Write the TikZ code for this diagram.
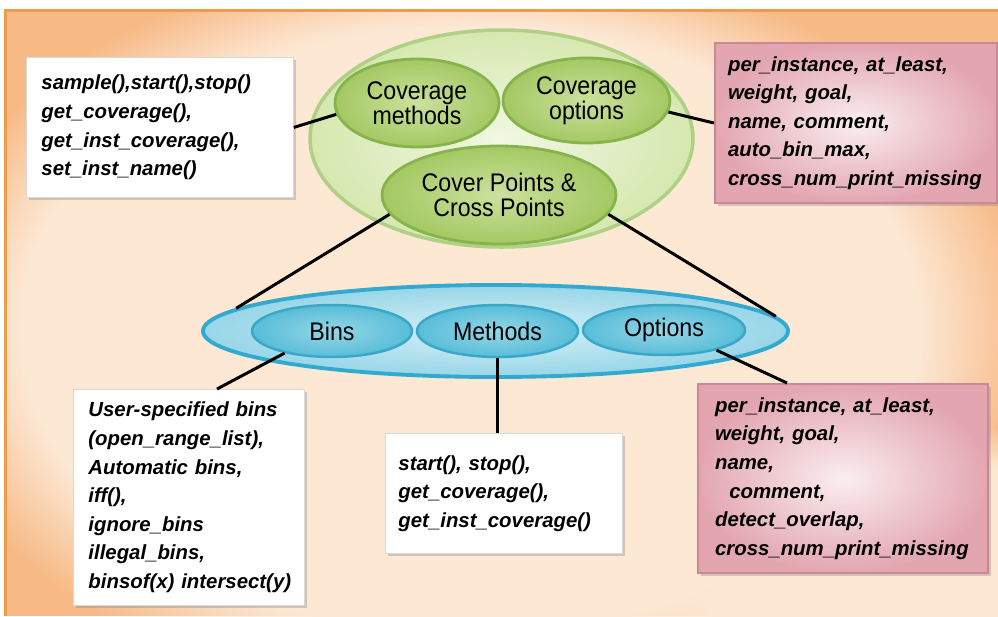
\documentclass[tikz,border=0pt]{standalone}
\usepackage{fontspec}
\setmainfont{Liberation Sans}
\usetikzlibrary{shapes.geometric,calc,fadings,shadows}

\definecolor{panelOrange}{HTML}{F7B985}
\definecolor{panelLight}{HTML}{FDE8D4}
\definecolor{frameOrange}{HTML}{F19A48}
\definecolor{greenOuterFill}{HTML}{D6E8B0}
\definecolor{greenOuterInner}{HTML}{F1F7E2}
\definecolor{greenOuterLine}{HTML}{B0D185}
\definecolor{greenIn}{HTML}{CBE19D}
\definecolor{greenOut}{HTML}{A4C863}
\definecolor{greenLine}{HTML}{86B34C}
\definecolor{blueOuterFill}{HTML}{98D6E8}
\definecolor{blueOuterInner}{HTML}{D6F0F7}
\definecolor{blueOuterLine}{HTML}{32AACF}
\definecolor{blueIn}{HTML}{95D6E7}
\definecolor{blueOut}{HTML}{58BDD8}
\definecolor{blueLine}{HTML}{3AA6C8}
\definecolor{pinkEdge}{HTML}{E3A6B1}
\definecolor{pinkCentre}{HTML}{FAEEF0}
\definecolor{pinkLine}{HTML}{C98893}

\newcommand{\sq}[1]{\scalebox{0.91}[1]{#1}}

\begin{document}
\begin{tikzpicture}[x=0.02cm,y=-0.02cm,
  ell/.style={ellipse, inner sep=0pt, align=center,
    font=\fontsize{14.5}{12.5}\selectfont},
  greenbig/.style={ell, draw=greenOuterLine, line width=2pt,
    inner color=greenOuterInner, outer color=greenOuterFill},
  greenell/.style={ell, draw=greenLine, line width=1.6pt,
    inner color=greenIn, outer color=greenOut},
  bluebig/.style={ell, draw=blueOuterLine, line width=2.2pt,
    inner color=blueOuterInner, outer color=blueOuterFill},
  blueell/.style={ell, draw=blueLine, line width=1.4pt,
    inner color=blueIn, outer color=blueOut},
  txtbox/.style={anchor=north west, align=left, inner ysep=0pt,
    inner xsep=0.06cm,
    font=\bfseries\itshape\fontsize{11.6}{16.3}\selectfont,
    drop shadow={shadow xshift=1.5pt, shadow yshift=-1.5pt, opacity=0.35}},
  whitebox/.style={txtbox, fill=white, draw=black!15, line width=0.5pt},
  pinkbox/.style={txtbox, draw=pinkLine, line width=1.2pt,
    inner color=pinkCentre, outer color=pinkEdge},
  link/.style={draw=black, line width=1.7pt}
]
\useasboundingbox (0,0) rectangle (998,616);
\fill[white] (0,0) rectangle (998,616);

% panel background
\begin{scope}
  \clip (5,10) rectangle (998,616);
  \fill[panelOrange] (5,10) rectangle (998,616);
  \fill[panelLight, path fading=circle with fuzzy edge 20 percent]
    (470,330) ellipse [x radius=560, y radius=380];
  \fill[panelLight, path fading=circle with fuzzy edge 20 percent]
    (920,610) ellipse [x radius=260, y radius=190];
\end{scope}
\draw[frameOrange, line width=2pt] (998,10.5) -- (5.5,10.5) -- (5.5,616);

% upper group: coverage group
\node[greenbig, minimum width=383*0.02cm, minimum height=217*0.02cm]
  (grp) at (501.5,138.5) {};
\node[greenell, minimum width=164*0.02cm, minimum height=88*0.02cm]
  (cm) at (417,103) {\sq{Coverage}\\\sq{methods}};
\node[greenell, minimum width=167*0.02cm, minimum height=85*0.02cm]
  (co) at (586.5,100.5) {\sq{Coverage}\\\sq{options}};
\node[greenell, minimum width=234*0.02cm, minimum height=98*0.02cm,
  font=\fontsize{14.5}{14}\selectfont]
  (cp) at (499,195) {\sq{Cover Points \&}\\\sq{Cross Points}};

% lower group: cover point contents
\node[bluebig, minimum width=585*0.02cm, minimum height=92*0.02cm]
  (pts) at (495.5,331) {};
\node[blueell, minimum width=160*0.02cm, minimum height=52*0.02cm]
  (bins) at (332,331) {\sq{Bins}};
\node[blueell, minimum width=161*0.02cm, minimum height=52*0.02cm]
  (meth) at (497.5,331) {\sq{Methods}};
\node[blueell, minimum width=162*0.02cm, minimum height=50*0.02cm]
  (opt) at (664,330) {\sq{Options}};

% text boxes (width = text width + 0.12cm; \leftskip gives the left margin)
\node[whitebox, text width=5.22cm, minimum height=2.8cm] (mbox) at (26,57)
  {\leftskip=0.24cm sample(),start(),stop()\\get\_coverage(),\\get\_inst\_coverage(),\\set\_inst\_name()\par};
\node[pinkbox, text width=5.52cm, minimum height=3.2cm] (obox) at (714,42)
  {\leftskip=0.2cm per\_instance, at\_least,\\weight, goal,\\name, comment,\\auto\_bin\_max,\\cross\_num\_print\_missing\par};
\node[whitebox, text width=4.5cm, minimum height=4.32cm] (bbox) at (73,389)
  {\leftskip=0.24cm User-specified bins\\(open\_range\_list),\\Automatic bins,\\iff(),\\ignore\_bins\\illegal\_bins,\\binsof(x) intersect(y)\par};
\node[whitebox, text width=4.62cm, minimum height=2.4cm] (mtbox) at (385,433)
  {\leftskip=0.2cm start(), stop(),\\get\_coverage(),\\get\_inst\_coverage()\par};
\node[pinkbox, text width=5.68cm, minimum height=3.78cm] (opbox) at (697,383)
  {\leftskip=0.28cm per\_instance, at\_least,\\weight, goal,\\name,\\\hspace*{0.7em}comment,\\detect\_overlap,\\cross\_num\_print\_missing\par};

% connectors
\draw[link] (mbox.east) -- (cm.188.6);
\draw[link] (co.-8.8) -- (obox.west);
\draw[link] (cp.190.6) -- (pts.175.2);
\draw[link] (cp.-10) -- (pts.3.5);
\coordinate (bintop) at ($(bbox.north west)+(144,0)$);
\coordinate (opttop) at ($(opbox.north west)+(90,0)$);
\draw[link] (bins.205.5) -- (bintop);
\draw[link] (meth.south) -- (meth.south |- mtbox.north);
\draw[link] (opt.-21.4) -- (opttop);
\end{tikzpicture}
\end{document}
